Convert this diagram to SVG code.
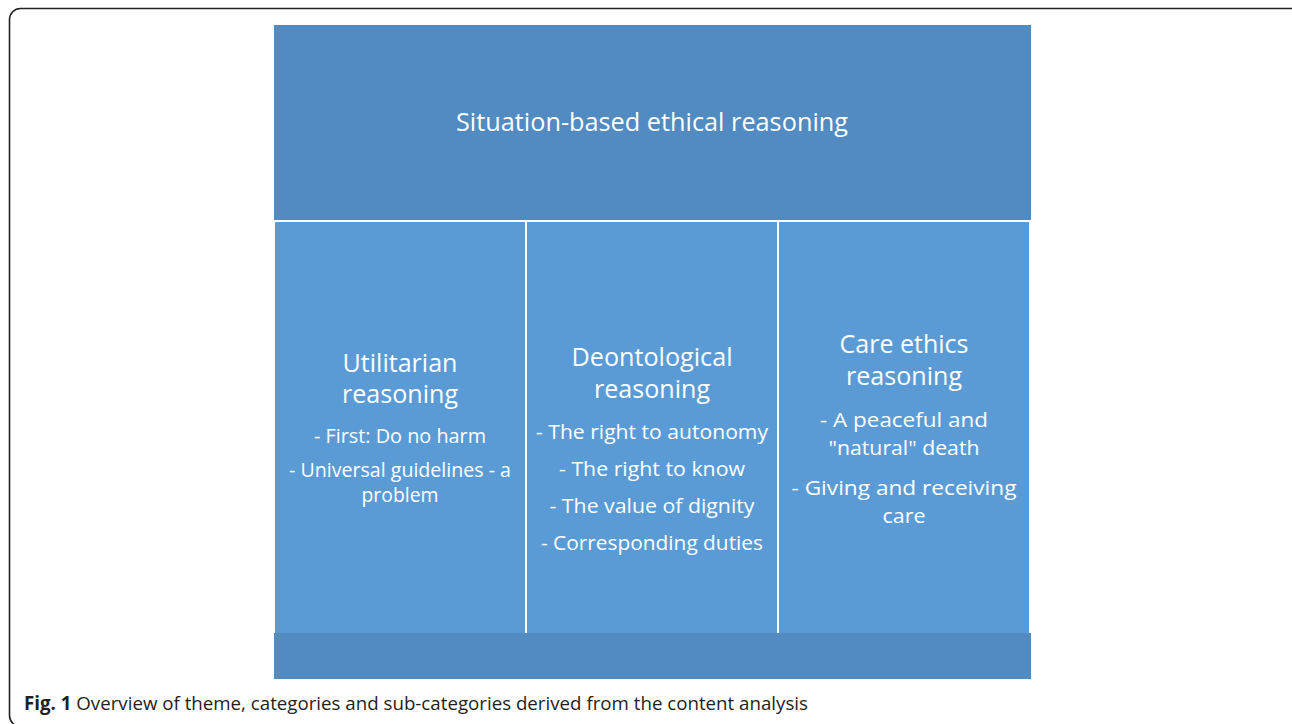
<svg xmlns="http://www.w3.org/2000/svg" width="1292" height="724" viewBox="0 0 1292 724">
<style>
.dark{fill:#528BC1}
.col{fill:#5B9BD5}
.h{font-family:"Open Sans","Liberation Sans",sans-serif;font-size:25.5px;fill:#FFFFFF;text-anchor:middle}
.s{font-family:"Open Sans","Liberation Sans",sans-serif;font-size:20px;fill:#FFFFFF;text-anchor:middle}
.cap{font-family:"Open Sans","Liberation Sans",sans-serif;font-size:19px;fill:#231F20}
</style>
<rect x="0" y="0" width="1292" height="724" fill="#FFFFFF"/>
<rect x="9.5" y="8.5" width="1295" height="718" rx="11" fill="none" stroke="#222222" stroke-width="1.6"/>
<g id="theme">
<rect class="dark" x="274" y="25" width="757" height="195"/>
<text class="h" x="652" y="131" textLength="392" lengthAdjust="spacingAndGlyphs">Situation-based ethical reasoning</text>
</g>
<g id="utilitarian">
<rect class="col" x="275" y="222" width="250" height="411"/>
<text class="h" x="400" y="372" textLength="115" lengthAdjust="spacingAndGlyphs">Utilitarian</text>
<text class="h" x="400" y="403" textLength="116" lengthAdjust="spacingAndGlyphs">reasoning</text>
<text class="s" x="400" y="443" textLength="172" lengthAdjust="spacingAndGlyphs">- First: Do no harm</text>
<text class="s" x="400" y="477" textLength="222" lengthAdjust="spacingAndGlyphs">- Universal guidelines - a</text>
<text class="s" x="400" y="502" textLength="77" lengthAdjust="spacingAndGlyphs">problem</text>
</g>
<g id="deontological">
<rect class="col" x="527" y="222" width="250" height="411"/>
<text class="h" x="652" y="366" textLength="161" lengthAdjust="spacingAndGlyphs">Deontological</text>
<text class="h" x="652" y="398" textLength="116" lengthAdjust="spacingAndGlyphs">reasoning</text>
<text class="s" x="652" y="439" textLength="232" lengthAdjust="spacingAndGlyphs">- The right to autonomy</text>
<text class="s" x="652" y="476" textLength="186" lengthAdjust="spacingAndGlyphs">- The right to know</text>
<text class="s" x="652" y="513" textLength="205" lengthAdjust="spacingAndGlyphs">- The value of dignity</text>
<text class="s" x="652" y="550" textLength="222" lengthAdjust="spacingAndGlyphs">- Corresponding duties</text>
</g>
<g id="care-ethics">
<rect class="col" x="779" y="222" width="250" height="411"/>
<text class="h" x="904" y="353" textLength="129" lengthAdjust="spacingAndGlyphs">Care ethics</text>
<text class="h" x="904" y="385" textLength="116" lengthAdjust="spacingAndGlyphs">reasoning</text>
<text class="s" x="904" y="427" textLength="168" lengthAdjust="spacingAndGlyphs">- A peaceful and</text>
<text class="s" x="904" y="455" textLength="151" lengthAdjust="spacingAndGlyphs">"natural" death</text>
<text class="s" x="904" y="495" textLength="225" lengthAdjust="spacingAndGlyphs">- Giving and receiving</text>
<text class="s" x="904" y="523" textLength="43" lengthAdjust="spacingAndGlyphs">care</text>
</g>
<g id="base">
<rect class="dark" x="274" y="633" width="757" height="46"/>
</g>
<g id="connectors"></g>
<text class="cap" x="24" y="710" textLength="784" lengthAdjust="spacingAndGlyphs"><tspan font-weight="bold">Fig. 1</tspan> Overview of theme, categories and sub-categories derived from the content analysis</text>
</svg>
